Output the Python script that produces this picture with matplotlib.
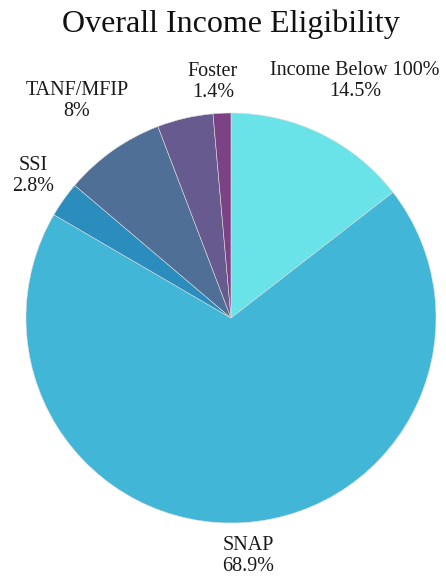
import matplotlib.pyplot as plt

categories = ["Income Below 100%", "SNAP", "SSI", "TANF/MFIP", "", "Foster"]
shares = [14.5, 68.9, 2.8, 8.0, 4.4, 1.4]
pct_labels = ["14.5%", "68.9%", "2.8%", "8%", "", "1.4%"]
colors = ["#6ae3e8", "#41b6d6", "#2b8cbe", "#4f6f96", "#665a8f", "#7b4386"]

# label anchor points, in pie radius units
label_pos = [(0.605, 1.156), (0.083, -1.161), (-0.966, 0.693),
             (-0.751, 1.059), None, (-0.088, 1.151)]

plt.rcParams["font.family"] = ["Liberation Serif", "DejaVu Serif"]

fig = plt.figure(figsize=(4.46, 5.79), dpi=100)
ax = fig.add_axes([26 / 446, 56 / 579, 410 / 446, 410 / 579])

ax.pie(shares, colors=colors, startangle=90, counterclock=False,
       wedgeprops=dict(edgecolor="#dddddd", linewidth=0.4))
ax.set_xlim(-1, 1)
ax.set_ylim(-1, 1)
ax.set_aspect("equal")

for name, pct, pos in zip(categories, pct_labels, label_pos):
    if pos is None:
        continue
    ax.text(pos[0], pos[1], f"{name}\n{pct}", ha="center", va="center",
            fontsize=14.5, color="#1a1a1a", linespacing=1.15, clip_on=False)

fig.text(231 / 446, 1 - 24 / 579, "Overall Income Eligibility",
         ha="center", va="center", fontsize=23, color="#111111")

fig.savefig("out.png", dpi=100)
